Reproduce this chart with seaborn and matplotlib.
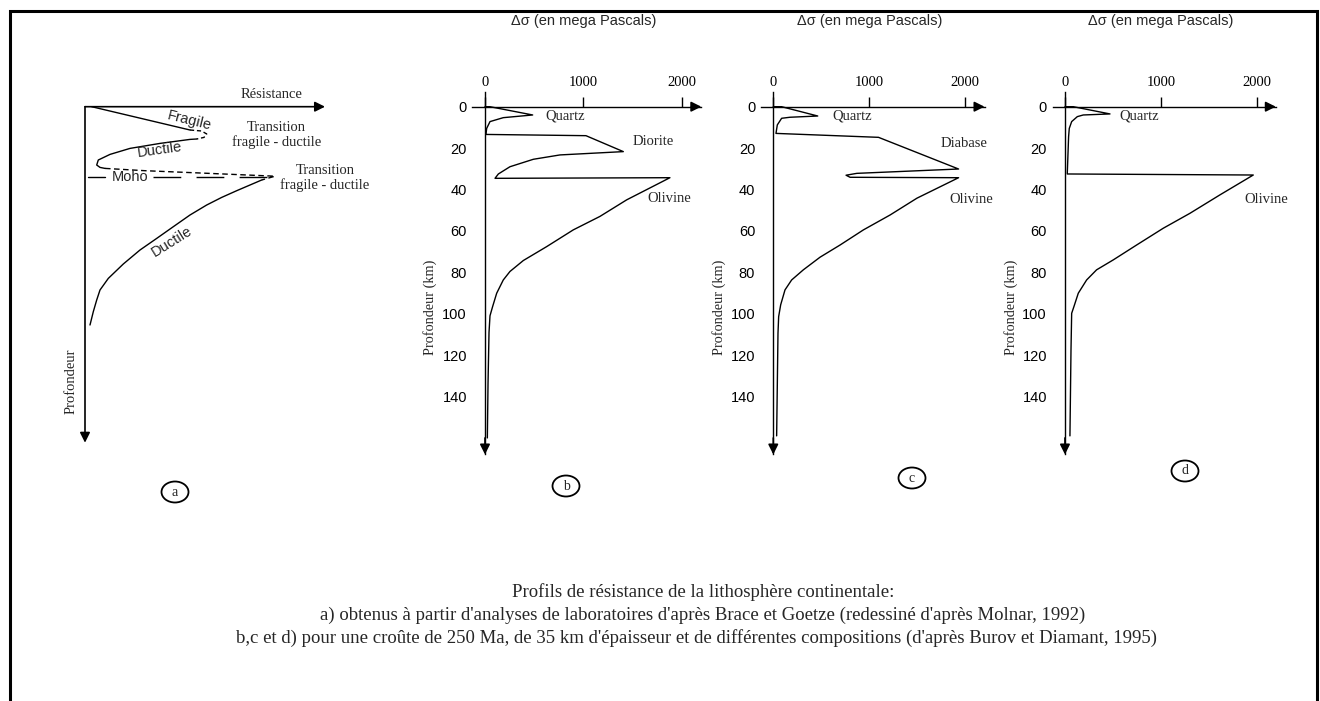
import numpy as np
import pandas as pd
import matplotlib
matplotlib.use("Agg")
import matplotlib.pyplot as plt
from matplotlib.patches import Ellipse, Rectangle
import seaborn as sns

######################################## data ########################################
# panel a : schematic profile (arbitrary units, x = resistance, y = depth)
a_frag_x = [6.7, 105]
a_frag_y = [0, 23.3]
a_tip1_x = [105, 116.7, 121.7, 119, 111.7]
a_tip1_y = [23.3, 24.3, 27.3, 30.7, 32.3]
a_duct1_x = [111.7, 105, 75, 45, 25, 13.3, 11.7, 15, 20]
a_duct1_y = [32.3, 32.7, 36.7, 41.7, 47.7, 53.3, 58.3, 60.7, 61.7]
a_tip2_x = [20, 60, 120, 190, 176.7]
a_tip2_y = [61.7, 64, 66.5, 69.5, 73.3]
a_duct2_x = [176.7, 151.7, 136.7, 121.7, 105, 88.3, 71.7, 55, 38.3, 23.3, 15, 11.7, 8.3, 5]
a_duct2_y = [73.3, 84, 90.7, 98.3, 108.3, 120, 131.7, 143.3, 157.3, 171.7, 183.3, 193.3, 205, 218.3]
moho_depth = 70

# panel b : quartz / diorite / olivine
b_stress = [0, 50, 485, 186, 51, 17, 10, 1027, 1407, 763, 492, 254, 136, 102, 1881,
            1441, 1169, 898, 627, 390, 254, 186, 119, 78, 51, 41, 31, 24]
b_depth = [0, 0, 4, 5.3, 7.2, 10.5, 13.4, 14, 21.7, 23.3, 25.4, 29, 32.5, 34.6, 34.3,
           45, 53, 59.5, 67.6, 74.3, 79.6, 83.7, 90.1, 96.5, 101, 109, 133.5, 160]

# panel c : quartz / diabase / olivine
c_stress = [0, 87, 463, 174, 87, 42, 28, 1096, 1930, 870, 758, 800, 1930,
            1496, 1217, 939, 696, 487, 313, 191, 122, 77, 56, 49, 35]
c_depth = [0, 0, 4.5, 5.1, 5.6, 8.8, 12.9, 14.8, 30.1, 32.2, 33.1, 34.1, 34.3,
           44.2, 52.3, 59.5, 66.8, 72.7, 78.8, 83.7, 88.5, 95.7, 101.4, 109.4, 159]

# panel d : quartz / olivine
d_stress = [0, 87, 470, 191, 129, 70, 45, 38, 24, 1965, 1617, 1304, 1026, 748,
            504, 330, 226, 139, 94, 70, 63, 52]
d_depth = [0, 0, 3.5, 4, 4.8, 7.2, 10.5, 14.5, 32.5, 33, 42.6, 51.5, 58.7, 66.8,
           74, 78.8, 83.7, 90.1, 96.5, 99.8, 117.5, 159]

depth_ticks = [0, 20, 40, 60, 80, 100, 120, 140]
stress_ticks = [0, 1000, 2000]

labels_b = [("Quartz", 814, 4.3), ("Diorite", 1707, 16.6), ("Olivine", 1870, 44.5)]
labels_c = [("Quartz", 817, 4.3), ("Diabase", 1986, 18), ("Olivine", 2059, 45)]
labels_d = [("Quartz", 772, 4.3), ("Olivine", 2098, 45)]

caption = ["Profils de résistance de la lithosphère continentale:",
           "a) obtenus à partir d'analyses de laboratoires d'après Brace et Goetze (redessiné d'après Molnar, 1992)",
           "b,c et d) pour une croûte de 250 Ma, de 35 km d'épaisseur et de différentes compositions (d'après Burov et Diamant, 1995)"]

######################################## style ########################################
sns.set_theme(style="white")
plt.rcParams['font.family'] = ['Liberation Sans', 'DejaVu Sans']
SERIF = ['Liberation Serif', 'DejaVu Serif']
SANS = ['Liberation Sans', 'DejaVu Sans']

W, H = 1320, 701
fig = plt.figure(figsize=(13.2, 7.01), dpi=100)
fig.patch.set_facecolor('white')

def box(left, top, right, bottom):
    return [left / W, 1 - bottom / H, (right - left) / W, (bottom - top) / H]

def curve(ax, x, y, **kw):
    sns.lineplot(x=x, y=y, sort=False, estimator=None, ax=ax, color='black',
                 lw=1.0, **kw)

def arrow(ax, start, end):
    ax.annotate('', xy=end, xytext=start, annotation_clip=False,
                arrowprops=dict(arrowstyle='-|>', color='black', lw=1.2,
                                shrinkA=0, shrinkB=0, mutation_scale=15))

######################################## panel a ########################################
axa = fig.add_axes(box(60, 90, 345, 450))
axa.set_xlim(-25, 260)
axa.set_ylim(343.3, -16.7)
axa.axis('off')
arrow(axa, (0, 0), (240, 0))
arrow(axa, (0, 0), (0, 336))
curve(axa, a_frag_x, a_frag_y)
curve(axa, a_tip1_x, a_tip1_y, linestyle=(0, (3, 2)))
curve(axa, a_duct1_x, a_duct1_y)
curve(axa, a_tip2_x, a_tip2_y, linestyle=(0, (4, 2.5)))
curve(axa, a_duct2_x, a_duct2_y)
# Moho
axa.plot([3.3, 20], [moho_depth, moho_depth], color='black', lw=1.0)
axa.plot([68, 182], [moho_depth, moho_depth], color='black', lw=1.0,
         dashes=(20, 11))
axa.text(45, moho_depth, "Moho", family=SANS, fontsize=10.5, ha='center', va='center')
axa.text(186.7, -11.7, "Résistance", family=SERIF, fontsize=10.5, ha='center', va='center')
axa.text(104.3, 14, "Fragile", family=SANS, fontsize=10.5, ha='center', va='center', rotation=-14)
axa.text(75, 42.7, "Ductile", family=SANS, fontsize=10.5, ha='center', va='center', rotation=8)
axa.text(86.7, 135, "Ductile", family=SANS, fontsize=10.5, ha='center', va='center', rotation=32)
axa.text(191.7, 28.3, "Transition\nfragile - ductile", family=SERIF, fontsize=10.5,
         ha='center', va='center', linespacing=1.1)
axa.text(240, 71.7, "Transition\nfragile - ductile", family=SERIF, fontsize=10.5,
         ha='center', va='center', linespacing=1.1)
axa.text(-14.3, 275, "Profondeur", family=SERIF, fontsize=10.5, ha='center', va='center',
         rotation=90)

######################################## panels b, c, d ########################################
panels = [
    (472.2, 701.3, b_stress, b_depth, labels_b),
    (760.8, 984.5, c_stress, c_depth, labels_c),
    (1052.5, 1275.8, d_stress, d_depth, labels_d),
]
for left, right, xs, ys, labs in panels:
    ax = fig.add_axes(box(left, 92.2, right, 454.5))
    ax.set_facecolor('none')
    ax.set_xlim(-130, 2200)
    ax.set_ylim(168, -7)
    curve(ax, xs, ys)
    for s in ['right', 'bottom']:
        ax.spines[s].set_visible(False)
    for s in ['top', 'left']:
        ax.spines[s].set_position(('data', 0))
        ax.spines[s].set_color('black')
        ax.spines[s].set_linewidth(1.0)
    ax.xaxis.tick_top()
    ax.set_xticks(stress_ticks)
    ax.set_yticks(depth_ticks)
    ax.tick_params(axis='x', direction='out', length=7, width=1, pad=6, colors='black',
                   labelsize=10.5)
    ax.tick_params(axis='y', direction='out', length=10, width=1, pad=3, colors='black',
                   labelsize=10.5)
    for t in ax.get_xticklabels():
        t.set_family(SERIF)
    for t in ax.get_yticklabels():
        t.set_family(SANS)
    ax.set_xlabel('')
    ax.set_ylabel('')
    arrow(ax, (2100, 0), (2200, 0))
    arrow(ax, (0, 160), (0, 168))
    ax.text(1000, -41.3, "Δσ (en mega Pascals)", family=SANS, fontsize=10.5,
            ha='center', va='center', clip_on=False)
    ax.text(-560, 97, "Profondeur (km)", family=SERIF, fontsize=10.3, rotation=90,
            ha='center', va='center', clip_on=False)
    for name, lx, ly in labs:
        ax.text(lx, ly, name, family=SERIF, fontsize=10.5, ha='center', va='center',
                clip_on=False)

######################################## circled letters ########################################
for letter, cx, cy in [("a", 175, 492), ("b", 566, 486), ("c", 912, 478), ("d", 1185, 471)]:
    fig.add_artist(Ellipse((cx / W, 1 - cy / H), 27 / W, 21 / H, transform=fig.transFigure,
                           fill=False, edgecolor='black', lw=1.3))
    fig.text(cx / W, 1 - cy / H, letter, family=SERIF, fontsize=10, ha='center', va='center')

######################################## caption ########################################
for line, cx, cy in zip(caption, [703, 703, 697], [592, 615, 638]):
    fig.text(cx / W, 1 - cy / H, line, family=SERIF, fontsize=13.5, ha='center', va='center')

# frame
fig.add_artist(Rectangle((9.5 / W, -0.1), (1317 - 9.5) / W, 1.1 - 11 / H,
                         transform=fig.transFigure, fill=False, edgecolor='black', lw=2.2))

plt.savefig('out.png', dpi=100)
